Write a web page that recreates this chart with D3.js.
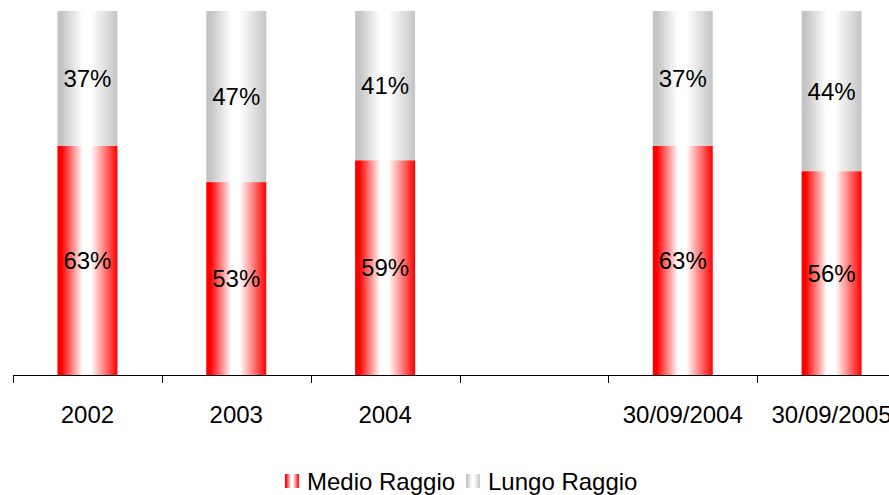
<!DOCTYPE html>
<html>
<head>
<meta charset="utf-8">
<script src="https://cdn.jsdelivr.net/npm/d3@7"></script>
<style>
  html, body { margin: 0; padding: 0; background: #fff; overflow: hidden; }
  svg { display: block; }
  text { font-family: "Liberation Sans", Arial, sans-serif; fill: #000; }
</style>
</head>
<body>
<svg id="chart"></svg>
<script>
/* ---------- data ---------- */

const categories = ["2002", "2003", "2004", "", "30/09/2004", "30/09/2005"];
const medio = [63, 53, 59, null, 63, 56];
const lungo = [37, 47, 41, null, 37, 44];
const series_names = ["Medio Raggio", "Lungo Raggio"];

/* ---------- setup ---------- */

const width = 889;
const height = 495;

const svg = d3.select("#chart")
  .attr("width", width)
  .attr("height", height);

const defs = svg.append("defs");

function add_gradient(id, edge) {
  const grad = defs.append("linearGradient")
    .attr("id", id)
    .attr("x1", "0%").attr("x2", "100%")
    .attr("y1", "0%").attr("y2", "0%");
  [[0, edge], [0.07, edge], [0.42, "#ffffff"], [0.56, "#ffffff"], [1, edge]]
    .forEach(([o, c]) => grad.append("stop").attr("offset", o).attr("stop-color", c));
}
add_gradient("grad_medio", "#ff0000");
add_gradient("grad_lungo", "#c4c4c4");

const x = d3.scaleBand()
  .domain(categories.map((c, i) => i))
  .range([13, 906])
  .padding(0);

const y = d3.scaleLinear()
  .domain([0, 100])
  .range([375, 11]);

const bar_w = 60;

const rows = categories.map((c, i) => ({ i, c, medio: medio[i], lungo: lungo[i] }))
  .filter(d => d.medio != null);

/* ---------- bars ---------- */

const bars = svg.append("g");

bars.selectAll("rect.medio")
  .data(rows)
  .join("rect")
  .attr("class", "medio")
  .attr("x", d => x(d.i) + x.bandwidth() / 2 - bar_w / 2)
  .attr("width", bar_w)
  .attr("y", d => y(d.medio))
  .attr("height", d => y(0) - y(d.medio))
  .attr("fill", "url(#grad_medio)");

bars.selectAll("rect.lungo")
  .data(rows)
  .join("rect")
  .attr("class", "lungo")
  .attr("x", d => x(d.i) + x.bandwidth() / 2 - bar_w / 2)
  .attr("width", bar_w)
  .attr("y", d => y(d.medio + d.lungo))
  .attr("height", d => y(d.medio) - y(d.medio + d.lungo))
  .attr("fill", "url(#grad_lungo)");

/* value labels in the middle of each segment */
const labels = svg.append("g")
  .attr("text-anchor", "middle")
  .attr("font-size", 24);

labels.selectAll("text.medio")
  .data(rows)
  .join("text")
  .attr("x", d => x(d.i) + x.bandwidth() / 2)
  .attr("y", d => (y(0) + y(d.medio)) / 2)
  .attr("dy", "0.36em")
  .text(d => `${d.medio}%`);

labels.selectAll("text.lungo")
  .data(rows)
  .join("text")
  .attr("x", d => x(d.i) + x.bandwidth() / 2)
  .attr("y", d => (y(d.medio) + y(d.medio + d.lungo)) / 2)
  .attr("dy", "0.36em")
  .text(d => `${d.lungo}%`);

/* ---------- x axis (ticks between categories) ---------- */

const axis = svg.append("g");
const [x0, x1] = x.range();

axis.append("line")
  .attr("x1", x0).attr("x2", x1)
  .attr("y1", y(0) + 0.5).attr("y2", y(0) + 0.5)
  .attr("stroke", "#000")
  .attr("stroke-width", 1);

axis.selectAll("line.tick")
  .data(x.domain().concat([categories.length]))
  .join("line")
  .attr("class", "tick")
  .attr("x1", d => Math.round(x0 + d * x.step()) + 0.5)
  .attr("x2", d => Math.round(x0 + d * x.step()) + 0.5)
  .attr("y1", y(0))
  .attr("y2", y(0) + 8)
  .attr("stroke", "#000");

axis.selectAll("text")
  .data(rows.length ? categories.map((c, i) => ({ c, i })) : [])
  .join("text")
  .attr("x", d => x(d.i) + x.bandwidth() / 2)
  .attr("y", 414)
  .attr("dy", "0.36em")
  .attr("text-anchor", "middle")
  .attr("font-size", 24)
  .text(d => d.c);

/* ---------- legend ---------- */

const legend = svg.append("g").attr("font-size", 24);
const legend_items = [
  { name: series_names[0], fill: "url(#grad_medio)", sx: 285, tx: 307 },
  { name: series_names[1], fill: "url(#grad_lungo)", sx: 466, tx: 488 }
];

legend.selectAll("rect")
  .data(legend_items)
  .join("rect")
  .attr("x", d => d.sx)
  .attr("y", 474)
  .attr("width", 14)
  .attr("height", 14)
  .attr("fill", d => d.fill);

legend.selectAll("text")
  .data(legend_items)
  .join("text")
  .attr("x", d => d.tx)
  .attr("y", 481)
  .attr("dy", "0.36em")
  .text(d => d.name);
</script>
</body>
</html>
